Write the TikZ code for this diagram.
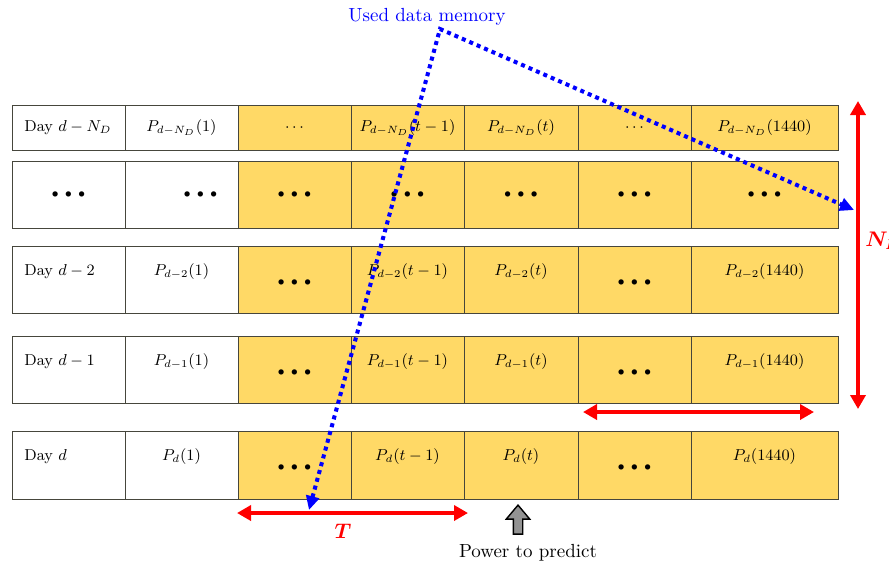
\documentclass[tikz,border=0pt]{standalone}
\usepackage{bm}
\usetikzlibrary{arrows.meta,positioning,shapes.arrows}
\definecolor{gold}{RGB}{255,217,102}
\definecolor{edge}{RGB}{70,70,60}
\definecolor{memblue}{RGB}{0,0,255}
\definecolor{alert}{RGB}{255,0,0}
\newcommand\bdots{{\scriptsize$\bullet$\hspace{3.4pt}$\bullet$\hspace{3.4pt}$\bullet$}}
\tikzset{
  cell/.style={draw=edge,fill=#1,inner sep=0pt,outer sep=0pt},
  cell/.default=gold,
  val/.style={font=\small,inner sep=1pt},
  day/.style={font=\small,anchor=west,inner sep=0pt},
  note/.style={font=\fontsize{10.8}{12}\selectfont,inner sep=0pt},
  span/.style={{Triangle[length=2.8mm,width=3mm]}-{Triangle[length=2.8mm,width=3mm]},
    draw=alert,line width=2.5pt},
  mem/.style={{Triangle[length=2.8mm,width=2.6mm]}-{Triangle[length=2.8mm,width=2.6mm]},
    draw=memblue,line width=2.3pt,dash pattern=on 2.3pt off 2.3pt},
  tag/.style={text=alert,font=#1\boldmath,inner sep=0pt},
  push/.style={single arrow,draw=black,fill=gray!85,thick,shape border rotate=90,
    minimum height=5.8mm,inner sep=0.8mm,single arrow head extend=1.4mm,
    single arrow tip angle=80},
}

\begin{document}
\begin{tikzpicture}[x=0.2mm,y=-0.2mm]
    \useasboundingbox (0,0) rectangle (889,566);
    % cells
    \foreach \r/\top/\h in {1/105/45,2/161/67,3/246/67,4/336/67,5/431/68}
      \foreach \x/\w/\fc [count=\c] in {12/113/white,125/113/white,238/113/gold,351/113/gold,
        464/114/gold,578/113/gold,691/147/gold}
        \node[cell=\fc,minimum width=0.2mm*\w,minimum height=0.2mm*\h,anchor=north west]
          (c\r-\c) at (\x,\top) {};
    % day d-N_D
    \node[day] (v1-1) at ([xshift=2.4mm]c1-1.west) {Day $d-N_D$};
    \foreach \v [count=\c from 2] in {{$P_{d-N_D}(1)$},{$\cdots$},{$P_{d-N_D}(t-1)$},
      {$P_{d-N_D}(t)$},{$\cdots$},{$P_{d-N_D}(1440)$}}
      \node[val] (v1-\c) at (c1-\c) {\v};
    \foreach \c/\dx in {1/0,2/19,3/0,4/0,5/0,6/0,7/0}
      \node[val] (v2-\c) at ([xshift=\dx*0.2mm]c2-\c) {\bdots};
    % last days
    \foreach \s/\r in {d-2/3,d-1/4,d/5} {
      \node[day] (v\r-1) at ([xshift=2.4mm,yshift=-5.2mm]c\r-1.north west) {Day $\s$};
      \foreach \v/\dy [count=\c from 2] in {{$P_{\s}(1)$}/26,\bdots/37,{$P_{\s}(t-1)$}/26,
        {$P_{\s}(t)$}/26,\bdots/37,{$P_{\s}(1440)$}/26}
        \node[val] (v\r-\c) at ([yshift=-\dy*0.2mm]c\r-\c.north) {\v};
    }
    % memory window
    \node[note,text=memblue] (mem) at (427,17) {Used data memory};
    \coordinate (peak) at (440,29);
    \coordinate (memA) at (309,510);
    \coordinate (memB) at (854,210);
    \draw[mem] (memA) -- (peak) -- (memB);
    % spans
    \coordinate (nlA) at (858,101);
    \coordinate (nlB) at (858,409);
    \draw[span] (nlA) -- (nlB);
    \node[tag=\large,anchor=west] (nl) at (865,241) {$\bm{N_L}$};
    \coordinate (hA) at (583,412);
    \coordinate (hB) at (814,412);
    \draw[span] (hA) -- (hB);
    \coordinate (tA) at (237,513);
    \coordinate (tB) at (468,513);
    \draw[span] (tA) -- (tB);
    \node[tag=\large] (tlab) at (343,531) {$\bm{T}$};
    % target
    \node[push,anchor=tip] (arr) at (518,504) {};
    \node[note] (goal) at (528,553) {Power to predict};
  \end{tikzpicture}
\end{document}
